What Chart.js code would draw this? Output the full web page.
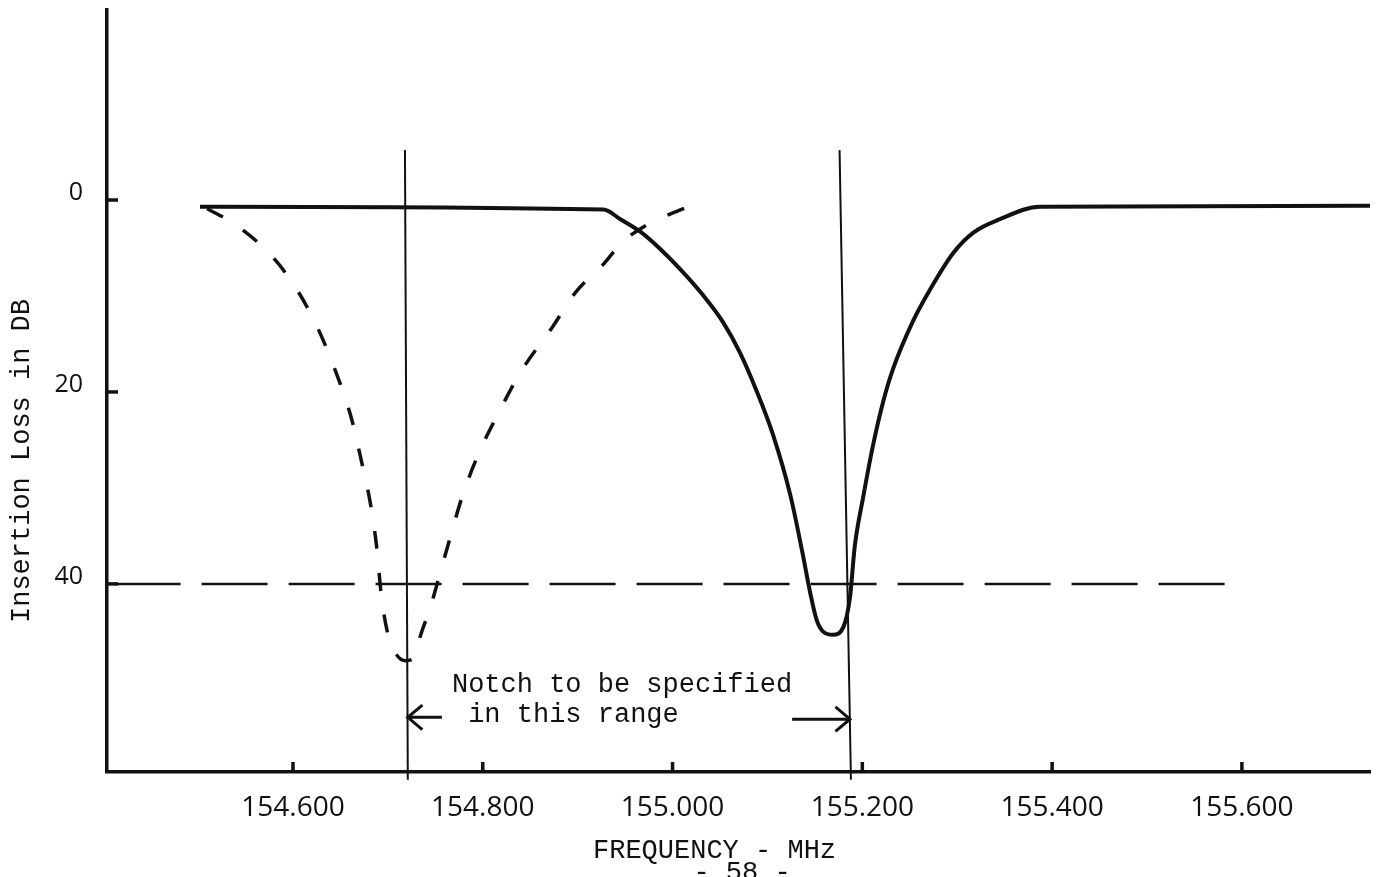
<!DOCTYPE html>
<html>
<head>
<meta charset="utf-8">
<title>Insertion loss vs frequency</title>
<script src="https://cdn.jsdelivr.net/npm/chart.js@4.4.1/dist/chart.umd.min.js"></script>
<style>
    html, body { margin: 0; padding: 0; background: #fff; }
    #wrap { width: 1379px; height: 877px; position: relative; }
</style>
</head>
<body>
<div id="wrap"><canvas id="lossChart"></canvas></div>
<script>
// frequency in MHz, insertion loss in dB
const solidFreq = [154.502, 154.927, 154.945, 154.966, 154.987, 155.008, 155.032, 155.053, 155.071, 155.089,
    155.106, 155.124, 155.137, 155.145, 155.152, 155.159, 155.169, 155.180, 155.187, 155.192,
    155.201, 155.211, 155.222, 155.232, 155.253, 155.271, 155.296, 155.317, 155.345, 155.387,
    155.735];
const solidLoss = [0.7, 1.0, 2.0, 3.3, 5.1, 7.2, 9.9, 12.7, 15.9, 20.0,
    24.5, 30.7, 36.8, 40.9, 43.8, 45.0, 45.3, 44.5, 41.4, 36.1,
    30.9, 25.7, 21.0, 17.7, 12.7, 9.4, 5.5, 3.4, 2.0, 0.7,
    0.6];

const dashFreq = [154.502, 154.544, 154.586, 154.621, 154.647, 154.662, 154.673, 154.681, 154.688, 154.693,
    154.699, 154.708, 154.718, 154.729, 154.734, 154.744, 154.755, 154.765, 154.778, 154.794,
    154.817, 154.842, 154.873, 154.898, 154.927, 154.947, 154.971, 155.016];
const dashLoss = [0.5, 2.9, 6.8, 12.3, 18.4, 22.9, 27.6, 31.3, 36.0, 41.1,
    44.8, 47.2, 48.0, 47.6, 45.5, 42.7, 38.9, 35.4, 31.0, 26.8,
    22.1, 17.6, 13.3, 9.6, 6.7, 4.4, 2.7, 0.7];

const limitFreq = [154.412, 155.595];
const limitLoss = [40, 40];

const markerLeftFreq = [154.718, 154.721];
const markerRightFreq = [155.176, 155.188];
const markerLoss = [-5.2, 60.4];

// arrows: tail -> head
const arrowLeftFreq = [154.757, 154.721];
const arrowRightFreq = [155.126, 155.187];
const arrowLoss = [53.9, 54.1];

const xTicks = [154.6, 154.8, 155.0, 155.2, 155.4, 155.6];
const yTicks = [0, 20, 40];

const notchLines = ['Notch to be specified', ' in this range'];
const notchAt = { x: 154.7675, y: 51.3 };

const ink = '#111';
const typeFont = '"Liberation Mono", "Courier New", monospace';

function pairs(xs, ys) {
    return xs.map((x, i) => ({ x, y: ys[i] }));
}

function lineSet(data, extra) {
    return Object.assign({
        data,
        borderColor: ink,
        borderWidth: 2,
        pointRadius: 0,
        fill: false,
        tension: 0
    }, extra);
}

function drawArrow(ctx, x0, y0, x1, y1) {
    const ang = Math.atan2(y1 - y0, x1 - x0);
    const len = 19;
    ctx.beginPath();
    ctx.moveTo(x0, y0);
    ctx.lineTo(x1, y1);
    ctx.moveTo(x1 - len * Math.cos(ang - 0.7), y1 - len * Math.sin(ang - 0.7));
    ctx.lineTo(x1, y1);
    ctx.lineTo(x1 - len * Math.cos(ang + 0.7), y1 - len * Math.sin(ang + 0.7));
    ctx.stroke();
}

const decor = {
    id: 'decor',
    afterDatasetsDraw(chart) {
        const { ctx, chartArea } = chart;
        const x = chart.scales.x, y = chart.scales.y;
        ctx.save();
        ctx.strokeStyle = ink;
        ctx.lineWidth = 3.5;

        // short ticks pointing into the plot
        yTicks.forEach(v => {
            const py = y.getPixelForValue(v);
            ctx.beginPath();
            ctx.moveTo(chartArea.left, py);
            ctx.lineTo(chartArea.left + 11, py);
            ctx.stroke();
        });
        xTicks.forEach(v => {
            const px = x.getPixelForValue(v);
            ctx.beginPath();
            ctx.moveTo(px, chartArea.bottom);
            ctx.lineTo(px, chartArea.bottom - 10);
            ctx.stroke();
        });

        ctx.lineWidth = 3;
        drawArrow(ctx, x.getPixelForValue(arrowLeftFreq[0]), y.getPixelForValue(arrowLoss[0]),
            x.getPixelForValue(arrowLeftFreq[1]), y.getPixelForValue(arrowLoss[0]));
        drawArrow(ctx, x.getPixelForValue(arrowRightFreq[0]), y.getPixelForValue(arrowLoss[1]),
            x.getPixelForValue(arrowRightFreq[1]), y.getPixelForValue(arrowLoss[1]));

        ctx.fillStyle = ink;
        ctx.font = '27px ' + typeFont;
        ctx.textAlign = 'left';
        ctx.textBaseline = 'alphabetic';
        const tx = x.getPixelForValue(notchAt.x);
        const ty = y.getPixelForValue(notchAt.y);
        notchLines.forEach((t, i) => ctx.fillText(t, tx, ty + i * 30));

        // axis titles and page number
        ctx.fillText('FREQUENCY - MHz', 593, 858);
        ctx.textAlign = 'center';
        ctx.fillText('- 58 -', 742, 880);
        ctx.translate(29, 461);
        ctx.rotate(-Math.PI / 2);
        ctx.fillText('Insertion Loss in DB', 0, 0);
        ctx.restore();
    }
};

function fixAxis(size) {
    return function (scale) {
        if (scale.isHorizontal()) scale.height = size; else scale.width = size;
        scale.paddingTop = 0;
        scale.paddingBottom = 0;
        scale.paddingLeft = 0;
        scale.paddingRight = 0;
    };
}

new Chart(document.getElementById('lossChart'), {
    type: 'line',
    data: {
        datasets: [
            lineSet(pairs(solidFreq, solidLoss), { borderWidth: 4, cubicInterpolationMode: 'monotone' }),
            lineSet(pairs(dashFreq, dashLoss), { borderWidth: 3.5, borderDash: [18, 24], borderDashOffset: 34, cubicInterpolationMode: 'monotone' }),
            lineSet(pairs(limitFreq, limitLoss), { borderWidth: 2.5, borderDash: [66, 21] }),
            lineSet(pairs(markerLeftFreq, markerLoss), { clip: false }),
            lineSet(pairs(markerRightFreq, markerLoss), { clip: false })
        ]
    },
    options: {
        responsive: true,
        maintainAspectRatio: false,
        animation: false,
        layout: { padding: { top: 10, right: 9, left: 0, bottom: 0 } },
        plugins: { legend: { display: false }, tooltip: { enabled: false } },
        scales: {
            x: {
                type: 'linear',
                min: 154.404,
                max: 155.735,
                afterBuildTicks: s => { s.ticks = xTicks.map(v => ({ value: v })); },
                afterFit: fixAxis(105),
                grid: { display: false, drawTicks: false },
                border: { display: true, color: ink, width: 3.5 },
                ticks: {
                    color: ink,
                    padding: 19,
                    maxRotation: 0,
                    autoSkip: false,
                    font: { family: '"Open Sans", sans-serif', size: 28 },
                    callback: v => Number(v).toFixed(3)
                }
            },
            y: {
                type: 'linear',
                reverse: true,
                min: -19.8,
                max: 59.6,
                afterBuildTicks: s => { s.ticks = yTicks.map(v => ({ value: v })); },
                afterFit: fixAxis(107),
                grid: { display: false, drawTicks: false },
                border: { display: true, color: ink, width: 3.5 },
                ticks: {
                    color: ink,
                    padding: 24,
                    labelOffset: -7,
                    font: { family: '"Open Sans", sans-serif', size: 25 },
                    callback: v => String(v)
                }
            }
        }
    },
    plugins: [decor]
});
</script>
</body>
</html>
